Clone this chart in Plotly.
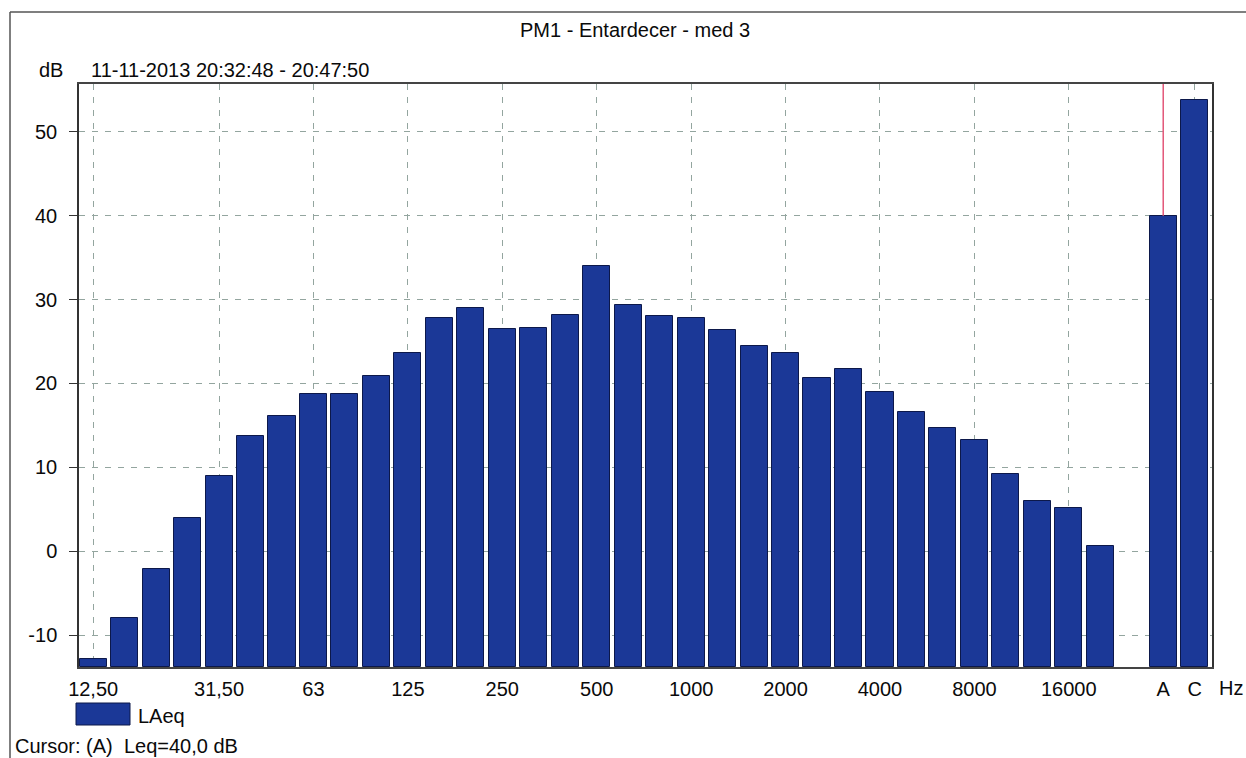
import plotly.graph_objects as go

# One-third-octave band centre frequencies (Hz) and their LAeq levels (dB)
bands = ["12,50", "16", "20", "25", "31,50", "40", "50", "63", "80", "100",
         "125", "160", "200", "250", "315", "400", "500", "630", "800", "1000",
         "1250", "1600", "2000", "2500", "3150", "4000", "5000", "6300", "8000",
         "10000", "12500", "16000", "20000"]
band_levels = [-12.8, -7.9, -2.1, 4.0, 9.0, 13.7, 16.1, 18.7, 18.8, 20.9,
               23.6, 27.8, 29.0, 26.5, 26.6, 28.2, 34.0, 29.3, 28.1, 27.8,
               26.4, 24.5, 23.6, 20.7, 21.7, 19.0, 16.6, 14.7, 13.3,
               9.2, 6.0, 5.1, 0.6]

# Overall weighted levels
weightings = ["A", "C"]
weighted_levels = [40.0, 53.8]

# Bands that carry a tick label
labelled_bands = ["12,50", "31,50", "63", "125", "250", "500", "1000",
                  "2000", "4000", "8000", "16000"]

y_ticks = [-10, 0, 10, 20, 30, 40, 50]
y_tick_text = ["-10", "0", "10", "20", "30", "40", "50"]
y_min, y_max = -13.8, 55.7

title_text = "PM1 - Entardecer - med 3"
period_text = "11-11-2013 20:32:48 - 20:47:50"
cursor_text = "Cursor: (A)  Leq=40,0 dB"
series_name = "LAeq"

# Positions: bands side by side, one empty slot, then A and C
band_x = list(range(len(bands)))
weight_x = [len(bands) + 1 + i for i in range(len(weightings))]
all_x = band_x + weight_x
all_levels = band_levels + weighted_levels

FONT = "Liberation Sans, Arial, Helvetica, sans-serif"
TXT = 20
BAR_FILL = "#1b3897"
BAR_EDGE = "#0c184a"
GRID = "#93a59f"

fig = go.Figure()
fig.add_trace(go.Bar(
    x=all_x,
    y=[v - y_min for v in all_levels],
    base=y_min,
    width=0.86,
    name=series_name,
    marker=dict(color=BAR_FILL, line=dict(color=BAR_EDGE, width=1)),
    showlegend=False,
))

tick_vals = [bands.index(b) for b in labelled_bands] + weight_x
tick_text = labelled_bands + weightings

fig.update_layout(
    width=1246, height=758,
    margin=dict(l=79, r=34, t=84, b=91),
    paper_bgcolor="white", plot_bgcolor="white",
    font=dict(family=FONT, size=TXT, color="#0a0a0a"),
    bargap=0,
    xaxis=dict(
        range=[-0.45, 35.55],
        tickmode="array", tickvals=tick_vals, ticktext=tick_text,
        showgrid=True, gridcolor=GRID, gridwidth=1, griddash="6px,7px",
        showline=True, linecolor="#444", linewidth=1.5, mirror=True,
        ticks="outside", ticklen=3, tickcolor="white",
        tickfont=dict(size=TXT), zeroline=False,
    ),
    yaxis=dict(
        range=[y_min, y_max],
        tickmode="array", tickvals=y_ticks, ticktext=y_tick_text,
        showgrid=True, gridcolor=GRID, gridwidth=1, griddash="6px,7px",
        showline=True, linecolor="#333", linewidth=1.5, mirror=True,
        ticks="outside", ticklen=8, tickcolor="#333",
        ticklabelstandoff=8,
        tickfont=dict(size=TXT), zeroline=False,
    ),
)

# Cursor marker on the A-weighted bar
fig.add_shape(type="line", xref="x", yref="y",
              x0=weight_x[0], x1=weight_x[0],
              y0=weighted_levels[0], y1=y_max,
              line=dict(color="#e4587a", width=1.5), layer="above")

# Outer frame (top and left edges)
fig.add_shape(type="line", xref="paper", yref="paper",
              x0=-69 / 1133, x1=1.04, y0=1 + 72 / 583, y1=1 + 72 / 583,
              line=dict(color="#555", width=1.5))
fig.add_shape(type="line", xref="paper", yref="paper",
              x0=-69 / 1133, x1=-69 / 1133, y0=-0.2, y1=1 + 72 / 583,
              line=dict(color="#555", width=1.5))

# Legend swatch
fig.add_shape(type="rect", xref="paper", yref="paper",
              x0=-3 / 1133, x1=51 / 1133,
              y0=-(725 - 667) / 583, y1=-(703 - 667) / 583,
              fillcolor=BAR_FILL, line=dict(color=BAR_EDGE, width=1))

annotations = [
    dict(text=title_text, x=(635 - 79) / 1133, y=1 + (84 - 30) / 583,
         xanchor="center", yanchor="middle"),
    dict(text="dB", x=(37 - 79) / 1133, y=1 + (84 - 70) / 583,
         xanchor="left", yanchor="middle"),
    dict(text=period_text, x=(89 - 79) / 1133, y=1 + (84 - 70) / 583,
         xanchor="left", yanchor="middle"),
    dict(text="Hz", x=(1217 - 79) / 1133, y=-(688 - 667) / 583,
         xanchor="left", yanchor="middle"),
    dict(text=series_name, x=(136 - 79) / 1133, y=-(716 - 667) / 583,
         xanchor="left", yanchor="middle"),
    dict(text=cursor_text, x=(13 - 79) / 1133, y=-(746 - 667) / 583,
         xanchor="left", yanchor="middle"),
]
for a in annotations:
    fig.add_annotation(xref="paper", yref="paper", showarrow=False,
                       font=dict(size=TXT), **a)

fig.write_html("out.html")
